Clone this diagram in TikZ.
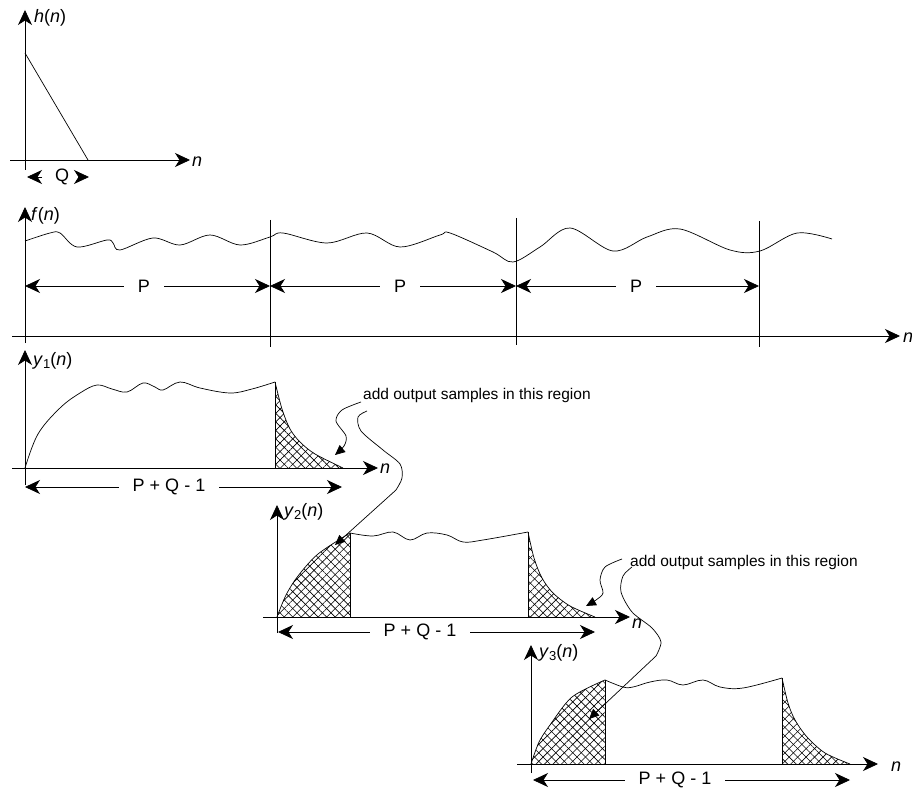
\documentclass[tikz,border=0pt]{standalone}
\usepackage{fontspec}
\setmainfont{Liberation Sans}
\usetikzlibrary{arrows.meta,patterns.meta}
\tikzset{
  tipA/.tip={Stealth[length=15pt,width=14pt,inset=4.5pt]},
  axis/.style={line width=0.8pt,-tipA},
  plain/.style={line width=0.8pt},
  dim/.style={line width=0.8pt,tipA-tipA},
  curve/.style={line width=0.7pt},
  lbl/.style={font=\fontsize{18}{20}\selectfont,inner sep=0pt},
  note/.style={font=\fontsize{15.5}{17}\selectfont,anchor=west,inner sep=0pt},
  gaplbl/.style={font=\fontsize{18}{20}\selectfont,fill=white,inner ysep=2pt,inner xsep=14pt},
  callout/.style={line width=0.7pt,-{Triangle[length=10pt,width=9pt]}},
  hatchA/.style={pattern={Lines[angle=45,distance=6pt,line width=0.6pt]}},
  hatchB/.style={pattern={Lines[angle=-45,distance=6pt,line width=0.6pt]}},
}
\newcommand{\ylab}[1]{\textit{y}\raisebox{-0.3ex}{\fontsize{13}{14}\selectfont #1}(\textit{n})}
\begin{document}
\begin{tikzpicture}[x=1pt,y=-1pt]
\useasboundingbox (0,0) rectangle (912,791);

% ---------------- h(n) ----------------
\coordinate (h0) at (25,170); \coordinate (h1) at (25,10);
\coordinate (hx0) at (10,160); \coordinate (hx1) at (190,160);
\draw[axis] (h0) -- (h1);
\draw[axis] (hx0) -- (hx1);
\node[lbl,anchor=west] (hlab) at (34,18) {\textit{h}(\textit{n})};
\node[lbl,anchor=west] (hn) at (192,162) {\textit{n}};
\coordinate (hs) at (25,53); \coordinate (he) at (88,160);
\draw[curve] (hs) -- (he);
\coordinate (q1) at (42,177); \coordinate (q1t) at (27,177);
\coordinate (q2) at (78,177); \coordinate (q2t) at (89,177);
\draw[axis] (q1) -- (q1t);
\draw[axis] (q2) -- (q2t);
\node[lbl] (Q) at (62,177) {Q};

% ---------------- f(n) ----------------
\coordinate (f0) at (25,343); \coordinate (f1) at (25,207);
\coordinate (fx0) at (12,336); \coordinate (fx1) at (900,336);
\draw[axis] (f0) -- (f1);
\draw[axis] (fx0) -- (fx1);
\node[lbl,anchor=west] (flab) at (31,216) {\textit{f}(\textit{n})};
\node[lbl,anchor=west] (fn) at (903,338) {\textit{n}};
\coordinate (d1a) at (270,220); \coordinate (d1b) at (270,347);
\coordinate (d2a) at (516,218); \coordinate (d2b) at (516,345);
\coordinate (d3a) at (759,221); \coordinate (d3b) at (759,347);
\draw[plain] (d1a) -- (d1b);
\draw[plain] (d2a) -- (d2b);
\draw[plain] (d3a) -- (d3b);
\draw[curve] plot[smooth,tension=0.55] coordinates {(25,241) (50,233) (60,233) (77,247) (107,240) (113,243) (120,250) (153,238) (180,245) (210,235) (240,245) (270,237) (283,233) (327,243) (367,233) (400,247) (440,235) (450,233) (493,252) (513,262) (540,247) (570,228) (613,251) (647,237) (680,229) (730,250) (760,251) (797,233) (832,239)};
\coordinate (p1a) at (25,286); \coordinate (p1b) at (270,286);
\coordinate (p2a) at (270,286); \coordinate (p2b) at (516,286);
\coordinate (p3a) at (516,286); \coordinate (p3b) at (759,286);
\draw[dim] (p1a) -- (p1b);
\draw[dim] (p2a) -- (p2b);
\draw[dim] (p3a) -- (p3b);
\node[gaplbl] (P1) at (144,286) {P};
\node[gaplbl] (P2) at (400,286) {P};
\node[gaplbl] (P3) at (636,286) {P};

% ---------------- y1(n) ----------------
\fill[hatchA] (275,468) -- (275,382) -- plot[smooth] coordinates {(275,382) (282,409) (290,429) (300,442) (315,454) (343,468)} -- cycle;
\fill[hatchB] (275,468) -- (275,382) -- plot[smooth] coordinates {(275,382) (282,409) (290,429) (300,442) (315,454) (343,468)} -- cycle;
\coordinate (a0) at (25,485); \coordinate (a1) at (25,350);
\coordinate (ax0) at (12,468); \coordinate (ax1) at (378,468);
\draw[axis] (a0) -- (a1);
\draw[axis] (ax0) -- (ax1);
\node[lbl,anchor=west] (y1lab) at (33,361) {\ylab{1}};
\node[lbl,anchor=west] (y1n) at (380,469) {\textit{n}};
\draw[curve] plot[smooth,tension=0.6] coordinates {(25,468) (38,434) (60,408) (80,393) (97,385) (112,389) (127,392) (143,383) (155,387) (163,390) (180,382) (200,388) (230,393) (252,389) (275,382)};
\draw[curve] (275,468) -- (275,382);
\draw[curve] plot[smooth] coordinates {(275,382) (282,409) (290,429) (300,442) (315,454) (343,468)};
\coordinate (r1a) at (25,487); \coordinate (r1b) at (342,487);
\draw[dim] (r1a) -- (r1b);
\node[gaplbl] (PQ1) at (169,487) {P + Q - 1};

% ---------------- y2(n) ----------------
\fill[hatchA] (277,617) -- plot[smooth] coordinates {(277,617) (286,595) (298,576) (318,554) (350,533)} -- (350,617) -- cycle;
\fill[hatchB] (277,617) -- plot[smooth] coordinates {(277,617) (286,595) (298,576) (318,554) (350,533)} -- (350,617) -- cycle;
\fill[hatchA] (528,617) -- (528,532) -- plot[smooth] coordinates {(528,532) (534,558) (542,578) (553,593) (570,606) (595,617)} -- cycle;
\fill[hatchB] (528,617) -- (528,532) -- plot[smooth] coordinates {(528,532) (534,558) (542,578) (553,593) (570,606) (595,617)} -- cycle;
\coordinate (b0) at (277,633); \coordinate (b1) at (277,505);
\coordinate (bx0) at (263,617); \coordinate (bx1) at (630,617);
\draw[axis] (b0) -- (b1);
\draw[axis] (bx0) -- (bx1);
\node[lbl,anchor=west] (y2lab) at (284,512) {\ylab{2}};
\node[lbl,anchor=west] (y2n) at (632,624) {\textit{n}};
\draw[curve] plot[smooth] coordinates {(277,617) (286,595) (298,576) (318,554) (350,533)};
\draw[curve] (350,617) -- (350,533);
\draw[curve] plot[smooth,tension=0.6] coordinates {(350,533) (373,536) (393,532) (410,540) (427,533) (447,535) (463,542) (483,540) (528,532)};
\draw[curve] (528,617) -- (528,532);
\draw[curve] plot[smooth] coordinates {(528,532) (534,558) (542,578) (553,593) (570,606) (595,617)};
\coordinate (r2a) at (278,632); \coordinate (r2b) at (595,632);
\draw[dim] (r2a) -- (r2b);
\node[gaplbl] (PQ2) at (420,632) {P + Q - 1};

% ---------------- y3(n) ----------------
\fill[hatchA] (531,764) -- plot[smooth] coordinates {(531,764) (539,742) (550,725) (572,697) (605,680)} -- (605,764) -- cycle;
\fill[hatchB] (531,764) -- plot[smooth] coordinates {(531,764) (539,742) (550,725) (572,697) (605,680)} -- (605,764) -- cycle;
\fill[hatchA] (782,764) -- (782,678) -- plot[smooth] coordinates {(782,678) (788,703) (795,720) (807,737) (825,753) (850,764)} -- cycle;
\fill[hatchB] (782,764) -- (782,678) -- plot[smooth] coordinates {(782,678) (788,703) (795,720) (807,737) (825,753) (850,764)} -- cycle;
\coordinate (c0) at (531,773); \coordinate (c1) at (531,645);
\coordinate (cx0) at (517,764); \coordinate (cx1) at (878,764);
\draw[axis] (c0) -- (c1);
\draw[axis] (cx0) -- (cx1);
\node[lbl,anchor=west] (y3lab) at (539,653) {\ylab{3}};
\node[lbl,anchor=west] (y3n) at (891,767) {\textit{n}};
\draw[curve] plot[smooth] coordinates {(531,764) (539,742) (550,725) (572,697) (605,680)};
\draw[curve] (605,764) -- (605,680);
\draw[curve] plot[smooth,tension=0.6] coordinates {(605,680) (623,687) (633,687) (650,682) (667,680) (683,685) (703,680) (720,687) (743,688) (782,678)};
\draw[curve] (782,764) -- (782,678);
\draw[curve] plot[smooth] coordinates {(782,678) (788,703) (795,720) (807,737) (825,753) (850,764)};
\coordinate (r3a) at (533,780); \coordinate (r3b) at (850,780);
\draw[dim] (r3a) -- (r3b);
\node[gaplbl] (PQ3) at (675,780) {P + Q - 1};

% ---------------- annotations ----------------
\node[note] (note1) at (363,395) {add output samples in this region};
\node[note] (note2) at (630,562) {add output samples in this region};
\draw[callout] plot[smooth] coordinates {(361,402) (342,410) (336,421) (346,436) (344,446) (335,455)};
\draw[curve] plot[smooth] coordinates {(367,411) (358,417) (361,431) (383,450) (400,464) (402,478) (396,490)};
\draw[callout] (396,490) -- (335,545);
\draw[callout] plot[smooth] coordinates {(622,559) (605,567) (600,580) (603,593) (596,600) (586,606)};
\draw[curve] plot[smooth] coordinates {(632,567) (623,576) (621,592) (632,612) (652,628) (661,642) (656,656)};
\draw[callout] (656,656) -- (589,719);
\end{tikzpicture}
\end{document}
